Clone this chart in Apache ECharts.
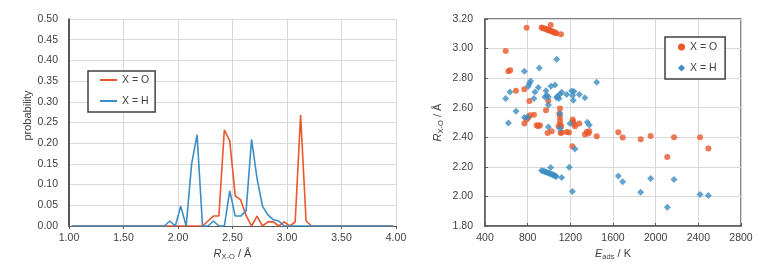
<!DOCTYPE html>
<html>
<head>
<meta charset="utf-8">
<script src="https://cdn.jsdelivr.net/npm/echarts@6/dist/echarts.min.js"></script>
<style>
html,body{margin:0;padding:0;background:#fff;}
#c{width:763px;height:279px;}
</style>
</head>
<body>
<div id="c"></div>
<script>
// ---- Left chart: distance distribution (bin centres in Å) ----
const binX = [1.025,1.075,1.125,1.175,1.225,1.275,1.325,1.375,1.425,1.475,
  1.525,1.575,1.625,1.675,1.725,1.775,1.825,1.875,1.925,1.975,
  2.025,2.075,2.125,2.175,2.225,2.275,2.325,2.375,2.425,2.475,
  2.525,2.575,2.625,2.675,2.725,2.775,2.825,2.875,2.925,2.975,
  3.025,3.075,3.125,3.175,3.225,3.275,3.325,3.375,3.425,3.475,
  3.525,3.575,3.625,3.675,3.725,3.775,3.825,3.875,3.925,3.975];
const probO = [0,0,0,0,0,0,0,0,0,0,
  0,0,0,0,0,0,0,0,0,0,
  0,0,0,0,0,0.012,0.024,0.024,0.232,0.205,
  0.073,0.063,0.025,0,0.024,0,0.010,0.010,0,0.010,
  0,0.010,0.268,0.012,0,0,0,0,0,0,
  0,0,0,0,0,0,0,0,0,0];
const probH = [0,0,0,0,0,0,0,0,0,0,
  0,0,0,0,0,0,0,0,0.012,0,
  0.048,0,0.150,0.220,0,0,0.012,0,0,0.085,
  0.024,0.024,0.037,0.209,0.115,0.048,0.027,0.015,0.012,0,
  0,0,0,0,0,0,0,0,0,0,
  0,0,0,0,0,0,0,0,0,0];
const leftXTicks = {min:1, max:4, step:0.5};
const leftYTicks = {min:0, max:0.5, step:0.05};

// ---- Right chart: adsorption energy (K) vs distance (Å) ----
const eadsO = [790,1016,1112,930,945,958,970,982,995,1005,1018,1030,1040,1050,1060,1068,
  594,619,636,690,769,816,769,790,806,822,859,884,900,915,972,994,987,1025,
  1103,1097,1103,1103,1103,1090,1115,1109,1119,1166,1187,1222,1228,1234,1244,1284,
  1337,1353,1369,1378,1447,1650,1691,1860,1953,2172,2416,2494,2109,1219];
const rO = [3.141,3.160,3.097,3.142,3.138,3.135,3.132,3.128,3.125,3.122,3.119,3.116,3.113,3.110,3.106,3.104,
  2.983,2.846,2.853,2.714,2.725,2.646,2.493,2.520,2.533,2.549,2.553,2.481,2.475,2.481,2.583,2.646,2.429,2.441,
  2.594,2.560,2.538,2.511,2.488,2.475,2.475,2.429,2.432,2.436,2.432,2.520,2.504,2.488,2.475,2.493,
  2.418,2.436,2.425,2.441,2.407,2.434,2.398,2.386,2.409,2.401,2.401,2.324,2.267,2.339];
const eadsH = [1072,909,769,594,634,691,619,769,797,816,828,806,869,900,859,972,978,962,994,
  1019,1056,994,1103,1072,1094,1078,1103,1119,1166,1212,1234,1222,1228,1284,1337,1447,
  994,1103,1197,1359,1378,1244,1190,1016,
  930,945,958,970,982,995,1005,1018,1030,1040,1050,1060,1068,
  1119,1219,1650,1691,1859,1953,2172,2109,2416,2494];
const rH = [2.927,2.868,2.847,2.662,2.707,2.576,2.497,2.533,2.538,2.764,2.780,2.746,2.707,2.737,2.662,2.714,2.685,2.673,2.673,
  2.746,2.753,2.619,2.691,2.667,2.662,2.678,2.560,2.704,2.690,2.713,2.709,2.682,2.650,2.690,2.668,2.773,
  2.470,2.459,2.494,2.501,2.483,2.320,2.198,2.196,
  2.176,2.172,2.168,2.165,2.161,2.158,2.155,2.152,2.148,2.145,2.142,2.138,2.135,
  2.128,2.033,2.139,2.099,2.029,2.121,2.115,1.926,2.013,2.007];
const rightXTicks = {min:400, max:2800, step:400};
const rightYTicks = {min:1.8, max:3.2, step:0.2};

const seriesNames = ['X = O', 'X = H'];
const colO = '#E8582A', colH = '#3C8DC3';
const txt = '#404040';
const FONT = 'Liberation Sans, Arial, sans-serif';

const zip = (a, b) => a.map((v, i) => [v, b[i]]);
const fmt2 = v => v.toFixed(2);
const fmt0 = v => String(Math.round(v));

const nameRich = {
  i: {fontStyle:'italic', fontSize:11, color:txt, fontFamily:FONT},
  s: {fontSize:7.5, color:txt, fontFamily:FONT, padding:[6,0,0,0]},
  n: {fontSize:11, color:txt, fontFamily:FONT}
};

const chart = echarts.init(document.getElementById('c'), null, {renderer:'canvas'});
chart.setOption({
  animation:false,
  backgroundColor:'#fff',
  textStyle:{fontFamily:FONT},
  grid:[
    {left:69, top:19, width:327, height:207, containLabel:false},
    {left:485, top:19, width:256, height:207, containLabel:false,
     show:true, borderColor:'#595959', borderWidth:1.5, backgroundColor:'transparent'}
  ],
  xAxis:[
    {gridIndex:0, type:'value', min:leftXTicks.min, max:leftXTicks.max, interval:leftXTicks.step,
     axisLine:{show:true, onZero:false, lineStyle:{color:'#595959', width:1.2}},
     axisTick:{show:true, length:3, lineStyle:{color:'#595959'}},
     axisLabel:{formatter:fmt2, color:txt, fontSize:10.5, margin:7, fontFamily:FONT},
     splitLine:{show:true, lineStyle:{color:'#d9d9d9', width:1}},
     name:'{i|R}{s|X-O}{n| / Å}', nameLocation:'middle', nameGap:20,
     nameTextStyle:{rich:nameRich}},
    {gridIndex:1, type:'value', min:rightXTicks.min, max:rightXTicks.max, interval:rightXTicks.step,
     axisLine:{show:true, onZero:false, lineStyle:{color:'#595959', width:1.5}},
     axisTick:{show:true, inside:true, length:3, lineStyle:{color:'#595959'}},
     axisLabel:{formatter:fmt0, color:txt, fontSize:10.5, margin:7, fontFamily:FONT},
     splitLine:{show:true, lineStyle:{color:'#d9d9d9', width:1}},
     name:'{i|E}{s|ads}{n| / K}', nameLocation:'middle', nameGap:20,
     nameTextStyle:{rich:nameRich}}
  ],
  yAxis:[
    {gridIndex:0, type:'value', min:leftYTicks.min, max:leftYTicks.max, interval:leftYTicks.step,
     axisLine:{show:true, onZero:false, lineStyle:{color:'#262626', width:1.5}},
     axisTick:{show:false},
     axisLabel:{formatter:fmt2, color:txt, fontSize:10.5, margin:11, fontFamily:FONT},
     splitLine:{show:true, lineStyle:{color:'#d9d9d9', width:1}},
     name:'probability', nameLocation:'middle', nameGap:36,
     nameTextStyle:{color:txt, fontSize:11, fontFamily:FONT, padding:[0,0,0,14]}},
    {gridIndex:1, type:'value', min:rightYTicks.min, max:rightYTicks.max, interval:rightYTicks.step,
     axisLine:{show:true, onZero:false, lineStyle:{color:'#595959', width:1.5}},
     axisTick:{show:true, inside:true, length:3, lineStyle:{color:'#595959'}},
     axisLabel:{formatter:fmt2, color:txt, fontSize:10.5, margin:12, fontFamily:FONT},
     splitLine:{show:true, lineStyle:{color:'#d9d9d9', width:1}},
     name:'{i|R}{s|X-O}{n| / Å}', nameLocation:'middle', nameGap:40,
     nameTextStyle:{rich:nameRich}}
  ],
  legend:[
    {left:88, top:71, orient:'vertical', itemGap:7, padding:[2,6,4,12],
     itemWidth:17, itemHeight:2, icon:'rect',
     borderColor:'#404040', borderWidth:1.5, backgroundColor:'#fff',
     textStyle:{color:txt, fontSize:10.5, lineHeight:14, fontFamily:FONT},
     data:[{name:seriesNames[0]}, {name:seriesNames[1]}]},
    {left:665, top:37, orient:'vertical', itemGap:7, padding:[3,8,4,13],
     itemWidth:7, itemHeight:7,
     borderColor:'#404040', borderWidth:1.5, backgroundColor:'#fff',
     textStyle:{color:txt, fontSize:10.5, lineHeight:14, fontFamily:FONT},
     data:[{name:seriesNames[0], icon:'circle'}, {name:seriesNames[1], icon:'diamond'}]}
  ],
  series:[
    {name:seriesNames[0], type:'line', xAxisIndex:0, yAxisIndex:0, data:zip(binX, probO),
     showSymbol:false, symbol:'none', lineStyle:{color:colO, width:1.6}, itemStyle:{color:colO}, z:2},
    {name:seriesNames[1], type:'line', xAxisIndex:0, yAxisIndex:0, data:zip(binX, probH),
     showSymbol:false, symbol:'none', lineStyle:{color:colH, width:1.6}, itemStyle:{color:colH}, z:3},
    {name:seriesNames[0], type:'scatter', xAxisIndex:1, yAxisIndex:1, data:zip(eadsO, rO),
     symbol:'circle', symbolSize:6, itemStyle:{color:colO}, z:3},
    {name:seriesNames[1], type:'scatter', xAxisIndex:1, yAxisIndex:1, data:zip(eadsH, rH),
     symbol:'diamond', symbolSize:7, itemStyle:{color:colH}, z:4}
  ]
});
</script>
</body>
</html>
